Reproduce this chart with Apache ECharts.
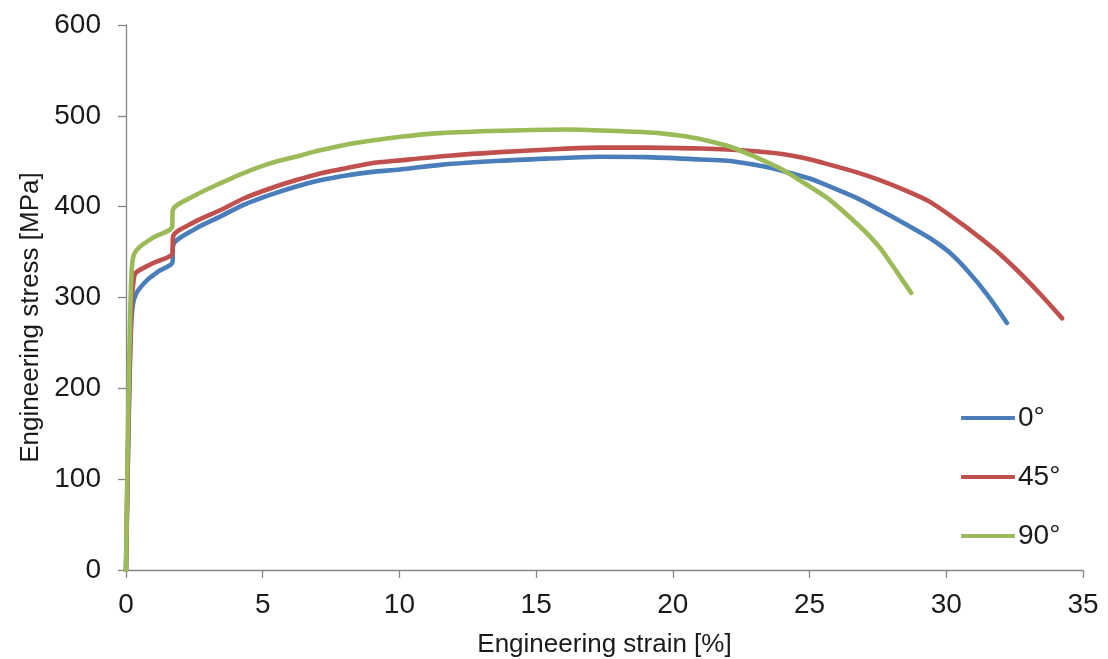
<!DOCTYPE html>
<html>
<head>
<meta charset="utf-8">
<script src="https://cdn.jsdelivr.net/npm/echarts@6/dist/echarts.min.js"></script>
<style>
  html, body { margin: 0; padding: 0; background: #ffffff; }
  #chart { width: 1108px; height: 659px; }
</style>
</head>
<body>
<div id="chart"></div>
<script>
// Tensile test curves: engineering strain [%] vs engineering stress [MPa]
const seriesNames = ['0°', '45°', '90°'];
const seriesColors = ['#4a7ebb', '#c0504d', '#9bbb59'];

const xTicks = [0, 5, 10, 15, 20, 25, 30, 35];
const yTicks = [0, 100, 200, 300, 400, 500, 600];

// 0° orientation
const strain0 = [0, 0.10, 0.18, 0.25, 0.35, 0.5, 0.8, 1.2, 1.70, 1.72, 2.5, 3.44, 4.3, 5.27, 6.2, 7.1, 8.0, 8.93, 10.03, 11.5, 13.68, 15.5, 17.34, 19.0, 21.0, 22.0, 22.7, 23.3, 23.93, 25.0, 25.76, 26.7, 27.59, 28.5, 29.42, 30.1, 30.76, 31.5, 32.22];
const stress0 = [0, 170, 262, 292, 303, 310, 320, 329, 339, 357, 375, 389, 402, 413, 422, 429, 434, 438, 441, 446, 450.5, 453, 455, 454.5, 452, 450.5, 447.6, 444.5, 440, 431, 422, 410, 396, 381, 365, 350, 330, 303, 272];

// 45° orientation
const strain45 = [0, 0.10, 0.20, 0.28, 0.35, 0.6, 1.0, 1.70, 1.72, 2.5, 3.44, 4.3, 5.27, 6.2, 7.1, 8.0, 8.93, 10.03, 11.8, 13.68, 15.5, 17.34, 19.0, 21.0, 22.0, 23.0, 24.0, 24.8, 25.76, 26.7, 27.59, 28.5, 29.42, 30.88, 31.8, 32.59, 33.4, 34.24];
const stress45 = [0, 175, 292, 320, 327, 332, 338, 349, 367, 383, 396, 409, 420, 429, 436.6, 442, 447.6, 451, 456, 460, 463, 465, 465, 464, 463, 461, 458, 453.5, 446, 438, 429, 418, 405, 374, 352, 330, 305, 277];

// 90° orientation
const strain90 = [0, 0.08, 0.16, 0.22, 0.30, 0.51, 1.0, 1.69, 1.71, 2.5, 3.44, 4.3, 5.27, 6.2, 7.1, 8.0, 8.93, 10.03, 11.5, 13.68, 16.12, 18.56, 19.5, 20.3, 21.0, 21.6, 22.1, 23.0, 23.93, 24.8, 25.76, 26.7, 27.15, 27.59, 28.15, 28.72];
const stress90 = [0, 170, 290, 335, 348, 356, 366, 378, 396, 412, 425.6, 437, 447.6, 455, 462, 468, 472.5, 477, 481, 483.5, 485, 482.5, 481, 478, 474.5, 470, 466, 455, 442, 426, 407, 382, 369, 354, 330, 305];

const strains = [strain0, strain45, strain90];
const stresses = [stress0, stress45, stress90];

const FONT = '"Liberation Sans", Arial, sans-serif';
const axisGray = '#868686';
const textColor = '#1a1a1a';

const chart = echarts.init(document.getElementById('chart'), null, { renderer: 'canvas' });

const series = seriesNames.map((name, i) => ({
  name: name,
  type: 'line',
  data: strains[i].map((x, k) => [x, stresses[i][k]]),
  showSymbol: false,
  smooth: 0.3,
  lineStyle: { width: 4.6, color: seriesColors[i], cap: 'round', join: 'round' },
  itemStyle: { color: seriesColors[i] },
  z: 2 + i,
  animation: false
}));

chart.setOption({
  backgroundColor: '#ffffff',
  animation: false,
  textStyle: { fontFamily: FONT },
  grid: { left: 126, right: 25, top: 25, bottom: 89, containLabel: false, outerBoundsMode: 'none' },
  legend: {
    data: seriesNames,
    orient: 'vertical',
    left: 961,
    top: 404,
    padding: 0,
    itemWidth: 54,
    itemHeight: 4,
    itemGap: 31,
    icon: 'roundRect',
    textStyle: { fontFamily: FONT, fontSize: 28, color: textColor, lineHeight: 28, padding: [0, 0, 0, -2] },
    selectedMode: false
  },
  xAxis: {
    type: 'value',
    min: xTicks[0],
    max: xTicks[xTicks.length - 1],
    interval: 5,
    name: 'Engineering strain [%]',
    nameLocation: 'middle',
    nameGap: 62,
    nameTextStyle: { fontFamily: FONT, fontSize: 26, color: textColor },
    axisLine: { show: true, onZero: false, lineStyle: { color: axisGray, width: 1.3 } },
    axisTick: { show: true, inside: false, length: 8, lineStyle: { color: axisGray, width: 1.3 } },
    axisLabel: { fontFamily: FONT, fontSize: 28, color: textColor, margin: 21 },
    splitLine: { show: false }
  },
  yAxis: {
    type: 'value',
    min: yTicks[0],
    max: yTicks[yTicks.length - 1],
    interval: 100,
    name: 'Engineering stress [MPa]',
    nameLocation: 'middle',
    nameGap: 82,
    nameRotate: 90,
    nameTextStyle: { fontFamily: FONT, fontSize: 26, color: textColor, padding: [0, 40, 0, 0] },
    axisLine: { show: true, onZero: false, lineStyle: { color: axisGray, width: 1.3 } },
    axisTick: { show: true, inside: false, length: 8, lineStyle: { color: axisGray, width: 1.3 } },
    axisLabel: { fontFamily: FONT, fontSize: 28, color: textColor, margin: 25 },
    splitLine: { show: false }
  },
  series: series
});
</script>
</body>
</html>
